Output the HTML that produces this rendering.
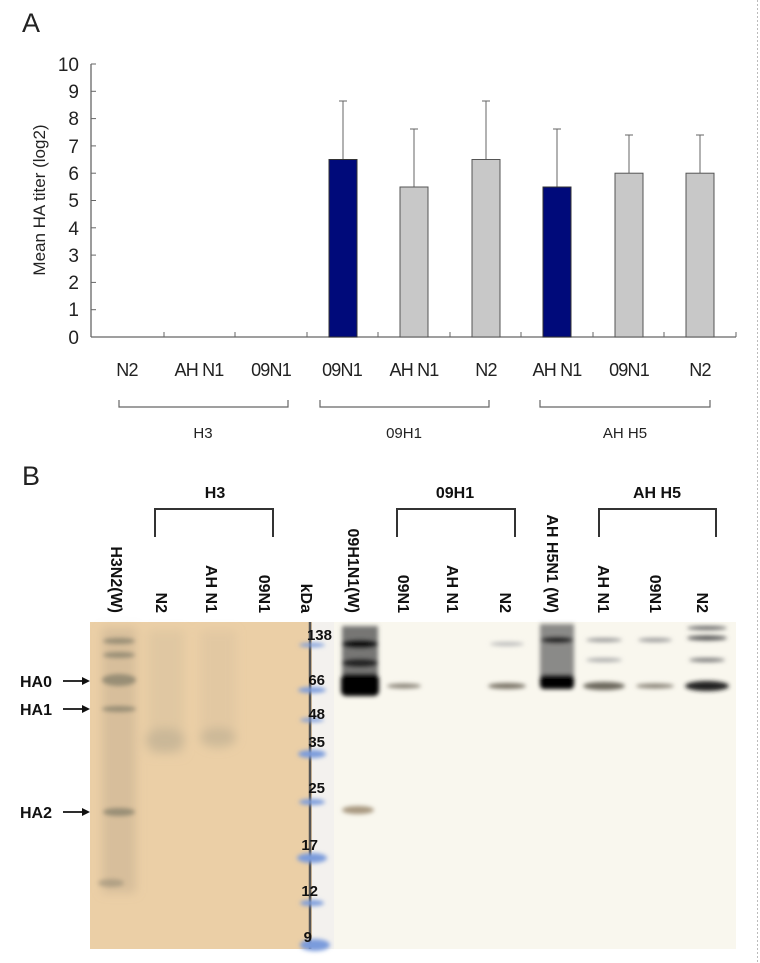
<!DOCTYPE html>
<html><head><meta charset="utf-8"><style>
body{margin:0;background:#fff;}
svg{display:block;font-family:"Liberation Sans",Arial,sans-serif;}
</style></head><body>
<svg width="760" height="963" viewBox="0 0 760 963" xmlns="http://www.w3.org/2000/svg">
<defs>
<filter id="bl" x="-50%" y="-50%" width="200%" height="200%"><feGaussianBlur stdDeviation="2"/></filter>
<filter id="bl4" x="-50%" y="-50%" width="200%" height="200%"><feGaussianBlur stdDeviation="5"/></filter>
</defs>
<rect width="760" height="963" fill="#fff"/>
<line x1="757.5" y1="0" x2="757.5" y2="963" stroke="#bbb" stroke-dasharray="2,2"/>
<text x="22" y="32" font-size="27" fill="#222">A</text>
<text x="22" y="485" font-size="27" fill="#222">B</text>
<g stroke="#666" stroke-width="1.3" fill="none">
<line x1="91" y1="64" x2="91" y2="337"/>
<line x1="91" y1="337" x2="736" y2="337"/>
</g>
<g stroke="#666" stroke-width="1">
<line x1="91" y1="64" x2="96" y2="64"/><line x1="91" y1="91.3" x2="96" y2="91.3"/><line x1="91" y1="118.6" x2="96" y2="118.6"/><line x1="91" y1="145.9" x2="96" y2="145.9"/><line x1="91" y1="173.2" x2="96" y2="173.2"/><line x1="91" y1="200.5" x2="96" y2="200.5"/><line x1="91" y1="227.8" x2="96" y2="227.8"/><line x1="91" y1="255.1" x2="96" y2="255.1"/><line x1="91" y1="282.4" x2="96" y2="282.4"/><line x1="91" y1="309.7" x2="96" y2="309.7"/>
<line x1="164" y1="337" x2="164" y2="332"/><line x1="235" y1="337" x2="235" y2="332"/><line x1="307" y1="337" x2="307" y2="332"/><line x1="378" y1="337" x2="378" y2="332"/><line x1="450" y1="337" x2="450" y2="332"/><line x1="521" y1="337" x2="521" y2="332"/><line x1="593" y1="337" x2="593" y2="332"/><line x1="664" y1="337" x2="664" y2="332"/><line x1="736" y1="337" x2="736" y2="332"/>
</g>
<g font-size="19" fill="#222" text-anchor="end">
<text x="79" y="71">10</text><text x="79" y="98">9</text><text x="79" y="125">8</text><text x="79" y="153">7</text><text x="79" y="180">6</text><text x="79" y="207">5</text><text x="79" y="235">4</text><text x="79" y="262">3</text><text x="79" y="289">2</text><text x="79" y="316">1</text><text x="79" y="344">0</text>
</g>
<text transform="translate(45,200) rotate(-90)" font-size="17" fill="#222" text-anchor="middle">Mean HA titer (log2)</text>
<g stroke="#666" stroke-width="1">
<line x1="343" y1="101" x2="343" y2="160"/><line x1="339" y1="101" x2="347" y2="101"/>
<line x1="414" y1="129" x2="414" y2="187"/><line x1="410" y1="129" x2="418" y2="129"/>
<line x1="486" y1="101" x2="486" y2="160"/><line x1="482" y1="101" x2="490" y2="101"/>
<line x1="557" y1="129" x2="557" y2="187"/><line x1="553" y1="129" x2="561" y2="129"/>
<line x1="629" y1="135" x2="629" y2="173"/><line x1="625" y1="135" x2="633" y2="135"/>
<line x1="700" y1="135" x2="700" y2="173"/><line x1="696" y1="135" x2="704" y2="135"/>
</g>
<rect x="329" y="159.5" width="28" height="177.5" fill="#000a7a" stroke="#333"/>
<rect x="400" y="187" width="28" height="150" fill="#c8c8c8" stroke="#555"/>
<rect x="472" y="159.5" width="28" height="177.5" fill="#c8c8c8" stroke="#555"/>
<rect x="543" y="187" width="28" height="150" fill="#000a7a" stroke="#333"/>
<rect x="615" y="173.2" width="28" height="163.8" fill="#c8c8c8" stroke="#555"/>
<rect x="686" y="173.2" width="28" height="163.8" fill="#c8c8c8" stroke="#555"/>
<g font-size="18" fill="#222" text-anchor="middle" letter-spacing="-0.8">
<text x="127" y="376">N2</text><text x="199" y="376">AH N1</text><text x="271" y="376">09N1</text><text x="342" y="376">09N1</text><text x="414" y="376">AH N1</text><text x="486" y="376">N2</text><text x="557" y="376">AH N1</text><text x="629" y="376">09N1</text><text x="700" y="376">N2</text>
</g>
<g stroke="#666" stroke-width="1.2" fill="none">
<polyline points="119,400 119,407 288,407 288,400"/>
<polyline points="320,400 320,407 489,407 489,400"/>
<polyline points="540,400 540,407 710,407 710,400"/>
</g>
<g font-size="15" fill="#222" text-anchor="middle">
<text x="203" y="438">H3</text><text x="404" y="438">09H1</text><text x="625" y="438">AH H5</text>
</g>
<g font-size="16" font-weight="bold" fill="#111" text-anchor="middle">
<text x="215" y="498">H3</text><text x="455" y="498">09H1</text><text x="657" y="498">AH H5</text>
</g>
<g stroke="#333" stroke-width="2" fill="none">
<polyline points="155,537 155,509 273,509 273,537"/>
<polyline points="397,537 397,509 515,509 515,537"/>
<polyline points="599,537 599,509 716,509 716,537"/>
</g>
<g font-size="16" font-weight="bold" fill="#111" text-anchor="end">
<text transform="translate(111,613) rotate(90)">H3N2(W)</text>
<text transform="translate(156,613) rotate(90)">N2</text>
<text transform="translate(206,613) rotate(90)">AH N1</text>
<text transform="translate(259,613) rotate(90)">09N1</text>
<text transform="translate(301,613) rotate(90)">kDa</text>
<text transform="translate(348,613) rotate(90)">09H1N1(W)</text>
<text transform="translate(398,613) rotate(90)">09N1</text>
<text transform="translate(447,613) rotate(90)">AH N1</text>
<text transform="translate(500,613) rotate(90)">N2</text>
<text transform="translate(547,613) rotate(90)">AH H5N1 (W)</text>
<text transform="translate(598,613) rotate(90)">AH N1</text>
<text transform="translate(650,613) rotate(90)">09N1</text>
<text transform="translate(697,613) rotate(90)">N2</text>
</g>
<rect x="90" y="622" width="222" height="327" fill="#ebcfa6"/>
<rect x="312" y="622" width="424" height="327" fill="#f9f7ee"/>
<rect x="312" y="622" width="22" height="327" fill="#f3f1ee"/>
<line x1="310" y1="622" x2="310" y2="949" stroke="#555" stroke-width="2.5"/>
<g fill="#7a9bdc" filter="url(#bl)">
<ellipse cx="312" cy="645" rx="13" ry="2"/><ellipse cx="312" cy="690" rx="14" ry="3"/><ellipse cx="312" cy="720" rx="12" ry="2"/><ellipse cx="312" cy="754" rx="14" ry="4"/><ellipse cx="312" cy="802" rx="13" ry="3"/><ellipse cx="312" cy="858" rx="15" ry="5"/><ellipse cx="312" cy="903" rx="12" ry="3"/><ellipse cx="315" cy="945" rx="15" ry="6"/>
</g>
<g filter="url(#bl4)">
<rect x="102" y="628" width="34" height="265" fill="#b8a48a" opacity="0.4"/>
<rect x="148" y="630" width="36" height="125" fill="#c8b598" opacity="0.3"/>
<rect x="200" y="630" width="36" height="110" fill="#c8b598" opacity="0.25"/>
<ellipse cx="165" cy="740" rx="20" ry="12" fill="#b0a48c" opacity="0.45"/>
<ellipse cx="218" cy="738" rx="18" ry="10" fill="#b0a48c" opacity="0.45"/>
</g>
<g fill="#8e8670" filter="url(#bl)" opacity="0.85">
<ellipse cx="119" cy="641" rx="16" ry="3"/><ellipse cx="119" cy="655" rx="16" ry="3"/><ellipse cx="119" cy="680" rx="17" ry="6"/><ellipse cx="119" cy="709" rx="17" ry="3"/><ellipse cx="119" cy="812" rx="16" ry="4"/><ellipse cx="111" cy="883" rx="13" ry="4" opacity="0.6"/>
</g>
<g font-size="15" font-weight="bold" fill="#111" text-anchor="end">
<text x="332" y="640">138</text>
<text x="325" y="685">66</text>
<text x="325" y="719">48</text>
<text x="325" y="747">35</text>
<text x="325" y="793">25</text>
<text x="318" y="850">17</text>
<text x="318" y="896">12</text>
<text x="312" y="942">9</text>
</g>
<g filter="url(#bl)">
<rect x="342" y="626" width="36" height="66" fill="#555" opacity="0.8"/>
<ellipse cx="360" cy="644" rx="18" ry="4" fill="#111"/>
<ellipse cx="360" cy="663" rx="18" ry="4" fill="#222"/>
<rect x="341" y="674" width="38" height="22" rx="5" fill="#050505"/>
<ellipse cx="358" cy="810" rx="16" ry="4" fill="#a89880"/>
<rect x="540" y="624" width="34" height="60" fill="#666" opacity="0.75"/>
<ellipse cx="557" cy="640" rx="16" ry="3" fill="#222"/>
<rect x="540" y="675" width="34" height="14" rx="4" fill="#050505"/>
<ellipse cx="404" cy="686" rx="17" ry="2.5" fill="#8a8478"/>
<ellipse cx="507" cy="686" rx="19" ry="3" fill="#7a7468"/>
<ellipse cx="507" cy="644" rx="17" ry="2" fill="#bbb"/>
<ellipse cx="604" cy="686" rx="21" ry="4" fill="#6a665c"/>
<ellipse cx="604" cy="640" rx="18" ry="2" fill="#999"/><ellipse cx="604" cy="660" rx="18" ry="2" fill="#aaa"/>
<ellipse cx="655" cy="686" rx="19" ry="2.5" fill="#8a8478"/>
<ellipse cx="655" cy="640" rx="17" ry="2" fill="#999"/>
<ellipse cx="707" cy="686" rx="22" ry="5" fill="#222"/>
<ellipse cx="707" cy="638" rx="20" ry="2.5" fill="#555"/><ellipse cx="707" cy="628" rx="20" ry="2" fill="#666"/><ellipse cx="707" cy="660" rx="18" ry="2" fill="#777"/>
</g>
<g font-size="16" font-weight="bold" fill="#111">
<text x="20" y="687">HA0</text><text x="20" y="715">HA1</text><text x="20" y="818">HA2</text>
</g>
<g stroke="#111" stroke-width="1.8" fill="#111">
<line x1="63" y1="681" x2="84" y2="681"/><polygon points="90,681 82,677 82,685" stroke="none"/>
<line x1="63" y1="709" x2="84" y2="709"/><polygon points="90,709 82,705 82,713" stroke="none"/>
<line x1="63" y1="812" x2="84" y2="812"/><polygon points="90,812 82,808 82,816" stroke="none"/>
</g>
</svg>
</body></html>
